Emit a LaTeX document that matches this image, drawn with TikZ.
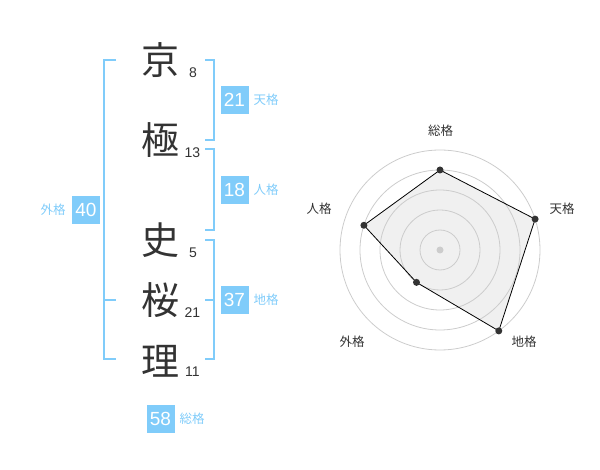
\documentclass[tikz,border=0pt]{standalone}
\usepackage{fontspec}
\setmainfont{Liberation Sans}
\newfontfamily\jp{Noto Sans CJK JP}
\definecolor{ink}{HTML}{333333}
\definecolor{sky}{HTML}{80CCFA}
\definecolor{ring}{HTML}{CCCCCC}
\definecolor{area}{HTML}{F0F0F0}
\tikzset{
  kanji/.style={inner sep=0pt, text=ink, font=\jp\fontsize{38}{40}\selectfont},
  stroke/.style={inner sep=0pt, text=ink, font=\fontsize{14}{16}\selectfont},
  valbox/.style={fill=sky, text=white, minimum width=28pt, minimum height=28pt, inner sep=0pt, font=\fontsize{19}{21}\selectfont},
  vallabel/.style={inner sep=0pt, text=sky, font=\jp\fontsize{12.5}{14}\selectfont},
  bracket/.style={draw=sky, line width=2pt},
  axislabel/.style={inner sep=0pt, text=ink, font=\jp\fontsize{12.5}{14}\selectfont},
  dot/.style={circle, fill=ink, inner sep=0pt, minimum size=7pt},
}
\begin{document}
\begin{tikzpicture}[x=1pt,y=-1pt]
\useasboundingbox (0,0) rectangle (600,470);
% kanji
\node[kanji] (k1) at (160,60) {京};
\node[kanji] (k2) at (160,140) {極};
\node[kanji] (k3) at (160,240) {史};
\node[kanji] (k4) at (160,300) {桜};
\node[kanji] (k5) at (160,361) {理};
% stroke counts
\node[stroke] (s1) at (193,72.5) {8};
\node[stroke] (s2) at (192.5,153) {13};
\node[stroke] (s3) at (193,253) {5};
\node[stroke] (s4) at (192.5,312.5) {21};
\node[stroke] (s5) at (192.5,372) {11};
% brackets
\draw[bracket] (116,60) -- (104,60) -- (104,359) -- (116,359);
\draw[bracket] (104,300) -- (116,300);
\draw[bracket] (205,60) -- (214,60) -- (214,140) -- (205,140);
\draw[bracket] (205,149) -- (214,149) -- (214,230) -- (205,230);
\draw[bracket] (205,240) -- (214,240) -- (214,359) -- (205,359);
\draw[bracket] (205,300) -- (214,300);
% value boxes
\node[valbox] (ten) at (234.5,100) {21};
\node[vallabel] (tenl) at (266,100) {天格};
\node[valbox] (jin) at (234.5,190) {18};
\node[vallabel] (jinl) at (266,190) {人格};
\node[valbox] (chi) at (234.5,300) {37};
\node[vallabel] (chil) at (266,300) {地格};
\node[valbox] (gai) at (86,210) {40};
\node[vallabel] (gail) at (53,210) {外格};
\node[valbox] (sou) at (160.5,419) {58};
\node[vallabel] (soul) at (192,419) {総格};
% radar (y axis points down, so angles are negated)
\coordinate (c) at (440,250);
\path (c) ++(-90:80) coordinate (p1)
      (c) ++(-18:100) coordinate (p2)
      (c) ++(54:100) coordinate (p3)
      (c) ++(126:40) coordinate (p4)
      (c) ++(-162:80) coordinate (p5);
\fill[area] (p1) -- (p2) -- (p3) -- (p4) -- (p5) -- cycle;
\foreach \r in {20,40,60,80,100} \draw[ring, line width=0.8pt] (c) circle[radius=\r];
\fill[ring] (c) circle[radius=3.5];
\draw[black, line width=0.8pt] (p1) -- (p2) -- (p3) -- (p4) -- (p5) -- cycle;
\foreach \p in {p1,p2,p3,p4,p5} \node[dot] at (\p) {};
\node[axislabel] (a1) at (440.7,130.7) {総格};
\node[axislabel] (a2) at (562,209) {天格};
\node[axislabel] (a3) at (524,342) {地格};
\node[axislabel] (a4) at (352,342) {外格};
\node[axislabel] (a5) at (319,209) {人格};
\end{tikzpicture}
\end{document}
